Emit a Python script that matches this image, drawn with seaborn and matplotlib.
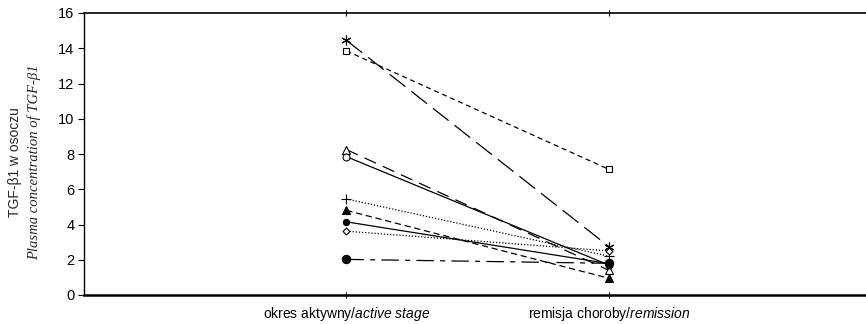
import numpy as np
import pandas as pd
import matplotlib
matplotlib.use("Agg")
import matplotlib.pyplot as plt
import seaborn as sns

sns.set_theme(style="white")
plt.rcParams['font.family'] = ['Liberation Sans', 'DejaVu Sans']
plt.rcParams['mathtext.fontset'] = 'custom'
plt.rcParams['mathtext.it'] = 'Liberation Sans:italic'
plt.rcParams['mathtext.rm'] = 'Liberation Sans'

categories = ["okres aktywny/active stage", "remisja choroby/remission"]
tick_labels = [r"okres aktywny/$\it{active\ stage}$", r"remisja choroby/$\it{remission}$"]

s_asterisk = [14.45, 2.75]
s_square = [13.85, 7.13]
s_open_tri = [8.25, 1.40]
s_open_circ = [7.85, 1.70]
s_plus = [5.45, 2.20]
s_fill_tri = [4.80, 0.95]
s_fill_diam = [4.15, 1.78]
s_open_diam = [3.62, 2.50]
s_fill_circ = [2.02, 1.80]

series = {
    "asterisk": s_asterisk,
    "square": s_square,
    "open_tri": s_open_tri,
    "open_circ": s_open_circ,
    "plus": s_plus,
    "fill_tri": s_fill_tri,
    "fill_diam": s_fill_diam,
    "open_diam": s_open_diam,
    "fill_circ": s_fill_circ,
}

styles = {
    "asterisk": dict(marker=(6, 2, 0), ms=7, mfc='black', dashes=(16, 6)),
    "square": dict(marker='s', ms=5, mfc='white', dashes=(4, 3)),
    "open_tri": dict(marker='^', ms=6, mfc='white', dashes=(10, 6)),
    "open_circ": dict(marker='o', ms=5, mfc='white', dashes=None),
    "plus": dict(marker='+', ms=7, mfc='black', dashes=(1, 1.5)),
    "fill_tri": dict(marker='^', ms=5.5, mfc='black', dashes=(5, 3)),
    "fill_diam": dict(marker='o', ms=4.5, mfc='black', dashes=None),
    "open_diam": dict(marker='D', ms=3.5, mfc='white', dashes=(1, 1.5)),
    "fill_circ": dict(marker='o', ms=6, mfc='black', dashes=(14, 5, 4, 5)),
}

rows = []
for name, vals in series.items():
    for i, (c, v) in enumerate(zip(categories, vals)):
        rows.append(dict(series=name, stage=c, pos=i + 1, value=v))
df = pd.DataFrame(rows)

fig = plt.figure(figsize=(8.66, 3.24), dpi=100)
ax = fig.add_axes([84 / 866, 29 / 324, 782 / 866, 282 / 324])

for name in series:
    st = styles[name]
    sub = df[df.series == name]
    sns.lineplot(data=sub, x='pos', y='value', ax=ax, color='black',
                 linewidth=0.9, marker=st['marker'], markersize=st['ms'],
                 markerfacecolor=st['mfc'], markeredgecolor='black',
                 markeredgewidth=0.8, legend=False)
    line = ax.lines[-1]
    if st['dashes'] is not None:
        line.set_dashes(st['dashes'])

ax.set_xlim(0, 2.98)
ax.set_ylim(0, 16)
ax.set_yticks(np.arange(0, 17, 2))
ax.set_yticklabels([str(v) for v in range(0, 17, 2)], fontsize=10.5)
ax.set_xticks([1, 2])
ax.set_xticklabels(tick_labels, fontsize=10)
ax.set_xlabel("")
ax.set_ylabel("")

for s in ['left', 'top', 'bottom']:
    ax.spines[s].set_visible(True)
    ax.spines[s].set_color('black')
ax.spines['left'].set_linewidth(1.0)
ax.spines['top'].set_linewidth(1.2)
ax.spines['bottom'].set_linewidth(1.8)
ax.spines['right'].set_visible(False)

ax.tick_params(axis='y', direction='out', length=4, width=0.8, colors='black', pad=3, left=True)
ax.tick_params(axis='x', direction='inout', length=5, width=0.8, colors='black', pad=5,
               bottom=True, top=True)

fig.text(0.017, 0.5, "TGF-β1 w osoczu", rotation=90, va='center', ha='center',
         fontsize=10, family=['Liberation Sans', 'DejaVu Sans'])
fig.text(0.039, 0.5, "Plasma concentration of TGF-β1", rotation=90, va='center', ha='center',
         fontsize=10.5, style='italic', family=['Liberation Serif', 'DejaVu Serif'])

fig.savefig("out.png", dpi=100)
